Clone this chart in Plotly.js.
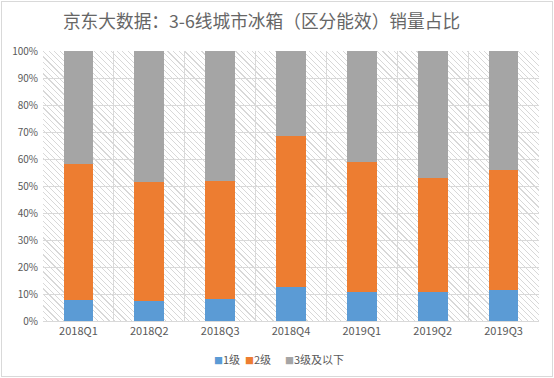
<!DOCTYPE html>
<html><head><meta charset="utf-8">
<script src="https://cdn.plot.ly/plotly-3.0.1.min.js"></script>
<style>
html,body{margin:0;padding:0;background:#fff;}
#wrap{position:relative;width:554px;height:378px;background:#fff;}
#hatch{position:absolute;left:43px;top:51px;width:496px;height:270px;
  background:repeating-linear-gradient(45deg,#ffffff 0px,#ffffff 2.6px,#d8d8d8 2.6px,#d8d8d8 3.4px,#ffffff 3.4px,#ffffff 4px);}
#chart{position:absolute;left:0;top:0;width:554px;height:378px;}
#frame{position:absolute;left:1px;top:1px;width:550px;height:374px;border:1px solid #d9d9d9;pointer-events:none;}
</style></head>
<body>
<div id="wrap"><div id="hatch"></div><div id="chart"></div><div id="frame"></div></div>
<script>
const categories = ['2018Q1','2018Q2','2018Q3','2018Q4','2019Q1','2019Q2','2019Q3'];
const level1 = [7.8, 7.4, 8.1, 12.6, 10.6, 10.6, 11.5];
const level2 = [50.3, 44.2, 43.9, 56.0, 48.2, 42.5, 44.4];
const level3 = [41.9, 48.4, 48.0, 31.4, 41.2, 46.9, 44.1];
const seriesNames = ['1级', '2级', '3级及以下'];
const yTickVals = [0,10,20,30,40,50,60,70,80,90,100];
const yTickText = ['0%','10%','20%','30%','40%','50%','60%','70%','80%','90%','100%'];

const colors = ['#5B9BD5', '#ED7D31', '#A5A5A5'];
const font = '"Noto Sans CJK SC", "Microsoft YaHei", sans-serif';

const traces = [level1, level2, level3].map((vals, i) => ({
  type: 'bar', x: categories, y: vals, name: seriesNames[i],
  marker: {color: colors[i], line: {width: 0}},
  hoverinfo: 'x+y+name', showlegend: false
}));

const legendX = [0.3407, 0.4032, 0.4839];
const legendAnn = seriesNames.map((n, i) => ({
  text: '<span style="color:' + colors[i] + ';font-size:9px">■</span>' + n,
  xref: 'paper', yref: 'paper', x: legendX[i], xanchor: 'left',
  y: -0.141, yanchor: 'middle', showarrow: false,
  font: {family: font, size: 11, color: '#595959'}
}));

const layout = {
  width: 554, height: 378,
  margin: {l: 43, r: 15, t: 51, b: 57, autoexpand: false},
  paper_bgcolor: 'rgba(0,0,0,0)', plot_bgcolor: 'rgba(0,0,0,0)',
  barmode: 'stack', bargap: 0.58,
  title: {text: '京东大数据：3-6线城市冰箱（区分能效）销量占比',
    font: {family: font, size: 17.7, color: '#666666'},
    x: 0.472, xanchor: 'center', y: 0.943, yanchor: 'middle'},
  font: {family: font, color: '#595959'},
  xaxis: {type: 'category', tickson: 'boundaries', showgrid: true, gridcolor: '#d9d9d9', gridwidth: 1,
    showline: true, linecolor: '#d9d9d9', linewidth: 1, ticks: '', zeroline: false,
    tickfont: {family: font, size: 11, color: '#595959'}, fixedrange: true},
  yaxis: {range: [0, 100], tickvals: yTickVals, ticktext: yTickText, showgrid: true,
    gridcolor: '#d9d9d9', gridwidth: 1, zeroline: false, showline: false, ticks: '',
    ticklabelstandoff: 4,
    tickfont: {family: font, size: 10, color: '#595959'}, fixedrange: true},
  showlegend: false,
  annotations: legendAnn
};

Plotly.newPlot('chart', traces, layout, {displayModeBar: false, staticPlot: true});
</script>
</body></html>
